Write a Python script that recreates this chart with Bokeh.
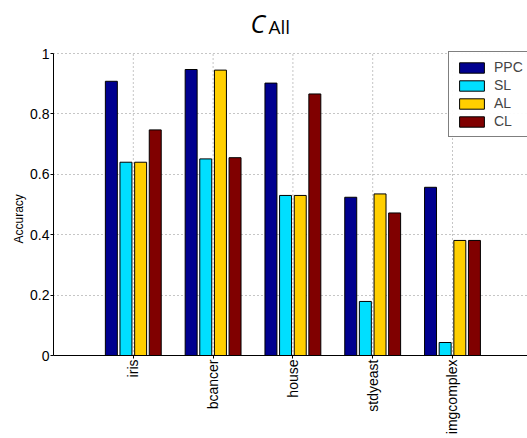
import math
from bokeh.plotting import figure
from bokeh.models import Range1d, FixedTicker, Legend, LegendItem, Label, Title
from bokeh.embed import file_html
from bokeh.resources import INLINE

categories = ["iris", "bcancer", "house", "stdyeast", "imgcomplex"]
series_names = ["PPC", "SL", "AL", "CL"]
ppc = [0.908, 0.947, 0.902, 0.524, 0.557]
sl = [0.640, 0.651, 0.530, 0.179, 0.043]
al = [0.640, 0.945, 0.530, 0.535, 0.381]
cl = [0.747, 0.655, 0.866, 0.472, 0.381]
y_ticks = [0, 0.2, 0.4, 0.6, 0.8, 1.0]
y_tick_labels = ["0", "0.2", "0.4", "0.6", "0.8", "1"]
title_main = "C"
title_sub = "All"
y_label = "Accuracy"

colors = ["#00008F", "#00DFFF", "#FFCF00", "#800000"]
offsets = [-0.275, -0.092, 0.092, 0.275]
series = [ppc, sl, al, cl]

# frame extends to the top of the canvas so the title can sit inside it;
# the y axis and the grid are bounded to [0, 1]
p = figure(width=527, height=438, output_backend="svg", toolbar_location=None,
           title_location=None,
           x_range=Range1d(0, 5.94), y_range=Range1d(0, 355 / 302),
           min_border_left=53, min_border_right=0, min_border_top=0, min_border_bottom=83)
p.outline_line_color = None
p.background_fill_color = "white"
p.border_fill_color = "white"

xs = list(range(1, len(categories) + 1))

grid_color = "#8c8c8c"
p.segment(x0=xs, y0=[0] * len(xs), x1=xs, y1=[max(y_ticks)] * len(xs),
          line_color=grid_color, line_dash="1 3", line_width=1)

renderers = []
for vals, col, off in zip(series, colors, offsets):
    r = p.vbar(x=[x + off for x in xs], top=vals, width=0.15, bottom=0,
               fill_color=col, line_color="black", line_width=1)
    renderers.append(r)

p.xaxis.ticker = FixedTicker(ticks=xs)
p.xaxis.major_label_overrides = {x: c for x, c in zip(xs, categories)}
p.xaxis.major_label_orientation = math.pi / 2
p.yaxis.ticker = FixedTicker(ticks=y_ticks)
p.yaxis.major_label_overrides = {t: l for t, l in zip(y_ticks, y_tick_labels)}
p.yaxis.bounds = (0, 1)

for ax in (p.xaxis[0], p.yaxis[0]):
    ax.axis_line_color = "black"
    ax.axis_line_width = 1
    ax.major_tick_in = 0
    ax.major_tick_out = 3
    ax.minor_tick_line_color = None
    ax.major_tick_line_color = "black"
    ax.major_label_text_font = "Liberation Sans"
    ax.major_label_text_font_size = "14px"
    ax.major_label_text_color = "black"
    ax.major_label_standoff = 1

p.xgrid.grid_line_color = None
p.ygrid.grid_line_color = grid_color
p.ygrid.grid_line_dash = "1 3"
p.ygrid.grid_line_width = 1

# y axis title as a side-panel Title so it can be positioned along the axis
p.add_layout(Title(text=y_label, align="left", offset=112, vertical_align="bottom",
                   standoff=4, text_font="Liberation Sans", text_font_size="12px",
                   text_font_style="normal", text_color="black"), "left")

legend = Legend(items=[LegendItem(label=n, renderers=[r]) for n, r in zip(series_names, renderers)],
                location=(395, 218))
legend.border_line_color = "black"
legend.border_line_width = 1.5
legend.padding = 7
legend.spacing = 2
legend.glyph_width = 31
legend.glyph_height = 13
legend.label_height = 13
legend.label_standoff = 7
legend.label_text_font = "Liberation Sans"
legend.label_text_font_size = "14px"
legend.margin = 0
p.add_layout(legend)

t1 = Label(x=197, y=333, x_units="screen", y_units="screen", text=title_main,
           text_font="Open Sans", text_font_style="italic", text_font_size="25px",
           text_baseline="alphabetic", text_color="black")
t2 = Label(x=215, y=329, x_units="screen", y_units="screen", text=title_sub,
           text_font="Open Sans", text_font_size="19px",
           text_baseline="alphabetic", text_color="black")
p.add_layout(t1)
p.add_layout(t2)

open("out.html", "w").write(file_html(p, INLINE))
